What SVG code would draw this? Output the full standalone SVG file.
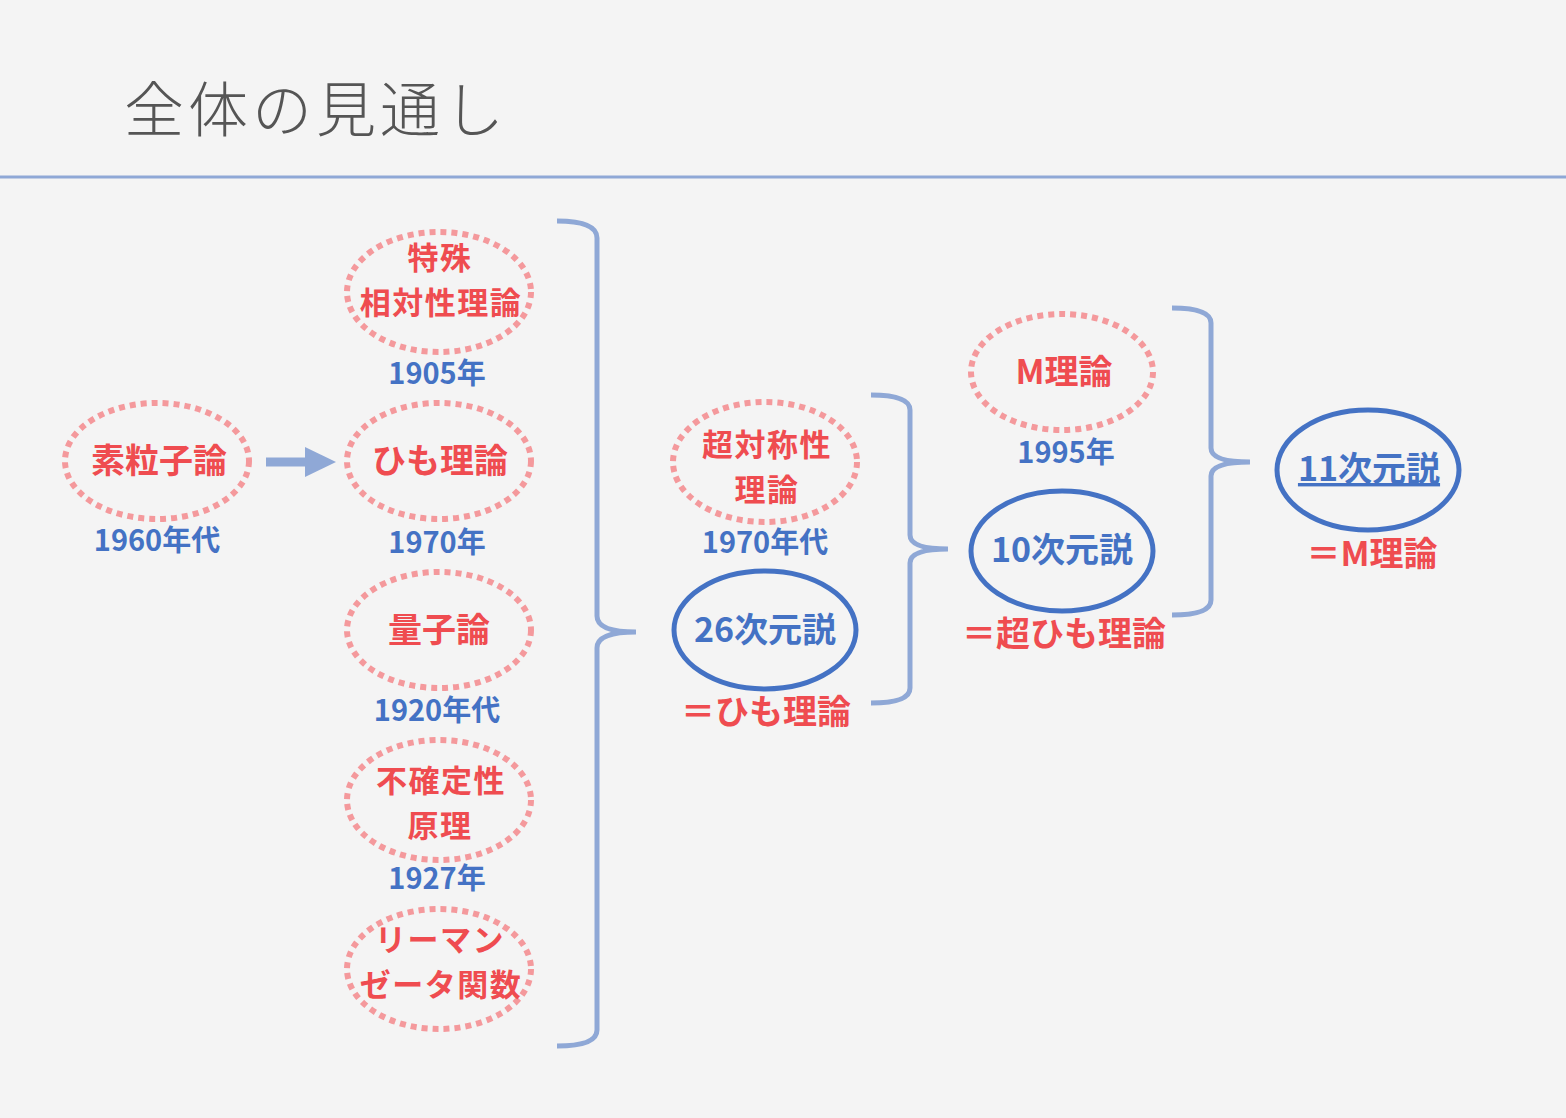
<svg xmlns="http://www.w3.org/2000/svg" width="1566" height="1118" viewBox="0 0 1566 1118">
<style>
.bg{fill:#f4f4f4}
.dot{fill:none;stroke:#f4999c;stroke-width:6;stroke-dasharray:6 5}
.sol{fill:none;stroke:#4472c4;stroke-width:5}
.red{font-family:"Noto Sans CJK JP","Noto Sans",sans-serif;font-weight:700;fill:#ef4c50;font-size:34px;text-anchor:middle}
.red2{font-family:"Noto Sans CJK JP","Noto Sans",sans-serif;font-weight:700;fill:#ef4c50;font-size:31px;letter-spacing:1.5px;text-anchor:middle}
.blue{font-family:"Noto Sans CJK JP","Noto Sans",sans-serif;font-weight:700;fill:#4472c4;font-size:34px;text-anchor:middle}
.lab{font-family:"Noto Sans CJK JP","Noto Sans",sans-serif;font-weight:700;fill:#4472c4;font-size:29px;text-anchor:middle}
.br{fill:none;stroke:#8fa8d6;stroke-width:5;stroke-linecap:butt}
</style>
<rect class="bg" x="0" y="0" width="1566" height="1118"/>
<text x="124" y="132" font-family="'Noto Sans CJK JP','Noto Sans',sans-serif" font-weight="300" font-size="60" letter-spacing="4" fill="#555555">全体の見通し</text>
<line x1="0" y1="177" x2="1566" y2="177" stroke="#8fa8d6" stroke-width="3"/>

<g id="connectors">
  <line x1="266" y1="462" x2="310" y2="462" stroke="#8fa8d6" stroke-width="9"/>
  <polygon points="305,447 336,462 305,477" fill="#8fa8d6"/>
  <path class="br" d="M557,221 Q597,221 597,238 L597,616 Q597,632 636,632 Q597,632 597,648 L597,1030 Q597,1046 557,1046"/>
  <path class="br" d="M871,395 Q910,395 910,410 L910,535 Q910,549 948,549 Q910,549 910,563 L910,688 Q910,703 871,703"/>
  <path class="br" d="M1172,308 Q1211,308 1211,323 L1211,448 Q1211,462 1250,462 Q1211,462 1211,476 L1211,600 Q1211,615 1172,615"/>
</g>

<g id="n-soryushi">
  <ellipse class="dot" cx="157" cy="461" rx="92" ry="58"/>
  <text class="red" x="159" y="473">素粒子論</text>
  <text class="lab" x="157" y="551">1960年代</text>
</g>
<g id="n-tokushu">
  <ellipse class="dot" cx="439" cy="292" rx="92" ry="60"/>
  <text class="red2" x="440" y="269">特殊</text>
  <text class="red2" x="441" y="314">相対性理論</text>
  <text class="lab" x="437" y="384">1905年</text>
</g>
<g id="n-himo">
  <ellipse class="dot" cx="439" cy="461" rx="92" ry="58"/>
  <text class="red" x="440" y="473">ひも理論</text>
  <text class="lab" x="437" y="553">1970年</text>
</g>
<g id="n-ryoshi">
  <ellipse class="dot" cx="439" cy="630" rx="92" ry="58"/>
  <text class="red" x="439" y="642">量子論</text>
  <text class="lab" x="437" y="721">1920年代</text>
</g>
<g id="n-fukakutei">
  <ellipse class="dot" cx="439" cy="800" rx="92" ry="60"/>
  <text class="red2" x="441" y="792">不確定性</text>
  <text class="red2" x="440" y="837">原理</text>
  <text class="lab" x="437" y="889">1927年</text>
</g>
<g id="n-riemann">
  <ellipse class="dot" cx="439" cy="969" rx="92" ry="60"/>
  <text class="red2" x="440" y="951">リーマン</text>
  <text class="red2" x="441" y="996">ゼータ関数</text>
</g>
<g id="n-chotaisho">
  <ellipse class="dot" cx="765" cy="462" rx="92" ry="60"/>
  <text class="red2" x="767" y="456">超対称性</text>
  <text class="red2" x="767" y="501">理論</text>
  <text class="lab" x="765" y="553">1970年代</text>
</g>
<g id="n-26">
  <ellipse class="sol" cx="765" cy="630" rx="91" ry="59"/>
  <text class="blue" x="765" y="642">26次元説</text>
  <text class="red" x="766" y="724">＝ひも理論</text>
</g>
<g id="n-m">
  <ellipse class="dot" cx="1062" cy="372" rx="91" ry="58"/>
  <text class="red" x="1064" y="384">M理論</text>
  <text class="lab" x="1066" y="463">1995年</text>
</g>
<g id="n-10">
  <ellipse class="sol" cx="1062" cy="551" rx="91" ry="60"/>
  <text class="blue" x="1062" y="562">10次元説</text>
  <text class="red" x="1064" y="646">＝超ひも理論</text>
</g>
<g id="n-11">
  <ellipse class="sol" cx="1368" cy="470" rx="91" ry="60"/>
  <text class="blue" x="1369" y="481" text-decoration="underline">11次元説</text>
  <text class="red" x="1372" y="566">＝M理論</text>
</g>
</svg>
